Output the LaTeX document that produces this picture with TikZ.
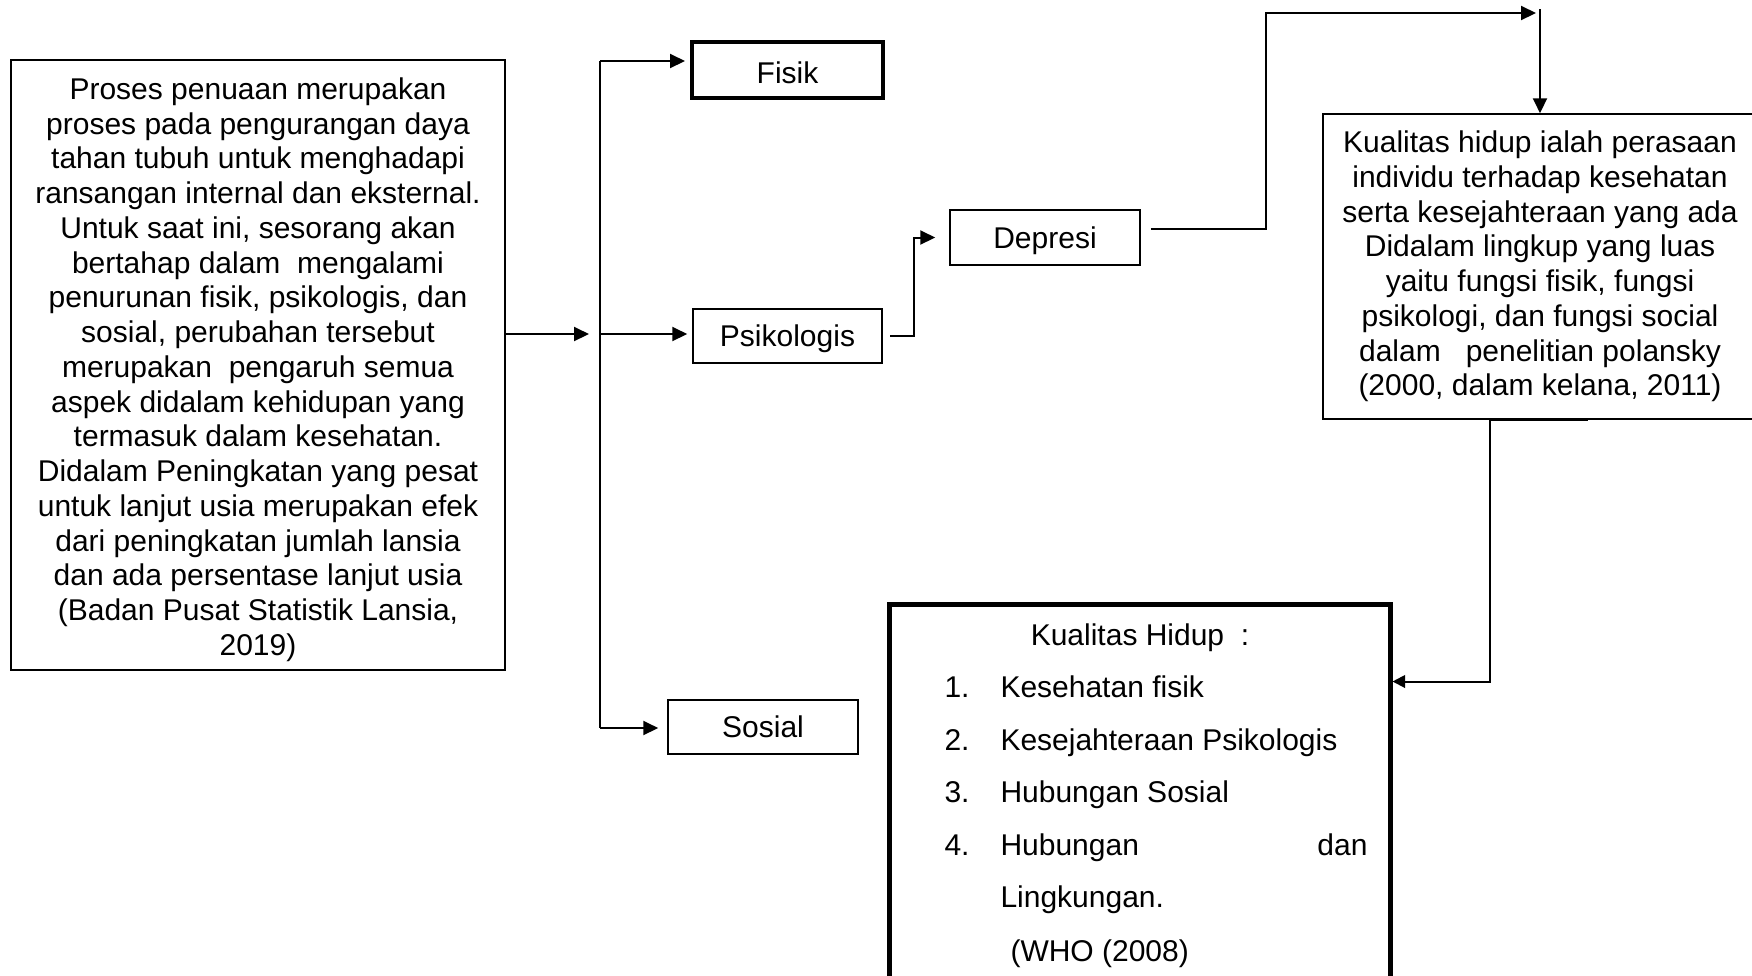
\documentclass[tikz,border=0pt]{standalone}
\usepackage{fontspec}
\setmainfont{Liberation Sans}
\usetikzlibrary{arrows.meta,positioning,calc}

\begin{document}
\begin{tikzpicture}[
    x=0.4pt, y=-0.4pt,
    font=\fontsize{12pt}{13.9pt}\selectfont,
    box/.style={rectangle, draw, line width=0.6pt, align=center, inner sep=0pt},
    small/.style={box, text height=8.6pt, text depth=0pt},
    thickbox/.style={box, line width=2pt},
    arrow/.style={-{Triangle[length=6pt,width=5.6pt]}, line width=0.8pt},
    item/.style={inner sep=0pt, anchor=base west}
]
\useasboundingbox (0,0) rectangle (1752,975);

% Left: explanation
\node[box, minimum width=197.6pt, minimum height=244pt] (proses) at (258,365) {};
\node[align=center, inner sep=0pt] (prosestext) at (258,369.5) {Proses penuaan merupakan\\proses pada pengurangan daya\\tahan tubuh untuk menghadapi\\ransangan internal dan eksternal.\\Untuk saat ini, sesorang akan\\bertahap dalam\ \ mengalami\\penurunan fisik, psikologis, dan\\sosial, perubahan tersebut\\merupakan\ \ pengaruh semua\\aspek didalam kehidupan yang\\termasuk dalam kesehatan.\\Didalam Peningkatan yang pesat\\untuk lanjut usia merupakan efek\\dari peningkatan jumlah lansia\\dan ada persentase lanjut usia\\(Badan Pusat Statistik Lansia,\\2019)};

% Middle: changes
\node[small, line width=1.6pt, minimum width=76.4pt, minimum height=22.4pt] (fisik) at (787.5,70) {\raisebox{-1pt}{Fisik}};
\node[small, minimum width=75.6pt, minimum height=21.6pt] (psiko) at (787.5,336) {Psikologis};
\node[small, minimum width=76pt, minimum height=21.6pt] (sosial) at (763,727) {Sosial};
\node[small, minimum width=76pt, minimum height=22pt] (depresi) at (1045,237.5) {Depresi};

% Right: quality of life
\node[box, minimum width=173.6pt, minimum height=122pt] (kualitas) at (1540,266.5) {Kualitas hidup ialah perasaan\\individu terhadap kesehatan\\serta kesejahteraan yang ada\\Didalam lingkup yang luas\\yaitu fungsi fisik, fungsi\\psikologi, dan fungsi social\\dalam\ \ \ penelitian polansky\\(2000, dalam kelana, 2011)};

\node[thickbox, minimum width=200.4pt, minimum height=160pt] (hidup) at (1139.5,804) {};
\node[inner sep=0pt, anchor=base] (hdr) at (1140,645) {Kualitas Hidup\ \ :};
\node[item] (n1) at (944,697) {1.};
\node[item] (n2) at (944,750) {2.};
\node[item] (n3) at (944,802) {3.};
\node[item] (n4) at (944,855) {4.};
\node[item] (t1) at (1000,697) {Kesehatan fisik};
\node[item] (t2) at (1000,750) {Kesejahteraan Psikologis};
\node[item] (t3) at (1000,802) {Hubungan Sosial};
\node[item] (t4) at (1000,855) {Hubungan};
\node[inner sep=0pt, anchor=base east] (dan) at (1368,855) {dan};
\node[item] (lingk) at (1000,907) {Lingkungan.};
\node[item] (who) at (1010,961) {(WHO (2008)};

% Connectors
\coordinate (hub) at (589,334);
\coordinate (sptop) at (600,61);
\coordinate (spbot) at (600,728);
\coordinate (topturn) at (1536,13);
\coordinate (drop) at (1540,9);

\draw[arrow] (proses.east |- hub) -- (hub);
\draw[line width=0.8pt] (sptop) -- (spbot);
\draw[arrow] (sptop) -- ([xshift=-2pt]fisik.west |- sptop);
\draw[arrow] (sptop |- hub) -- ([xshift=-2pt]psiko.west |- hub);
\draw[arrow] (spbot) -- ([xshift=-3.6pt]sosial.west |- spbot);

\draw[arrow] ([xshift=3pt]psiko.east) -- ++(24,0) |- ([xshift=-5.6pt]depresi.west);
\draw[arrow] ([xshift=4pt,yshift=3.4pt]depresi.east) -- ++(115,0) |- (topturn);
\draw[arrow] (drop) -- (kualitas.north -| drop);
\draw[arrow, -{Triangle[length=5pt,width=5pt]}] ([xshift=19pt]kualitas.south) -- ([xshift=-20pt]kualitas.south) |- ([yshift=-32pt]hidup.north east);
\end{tikzpicture}
\end{document}
